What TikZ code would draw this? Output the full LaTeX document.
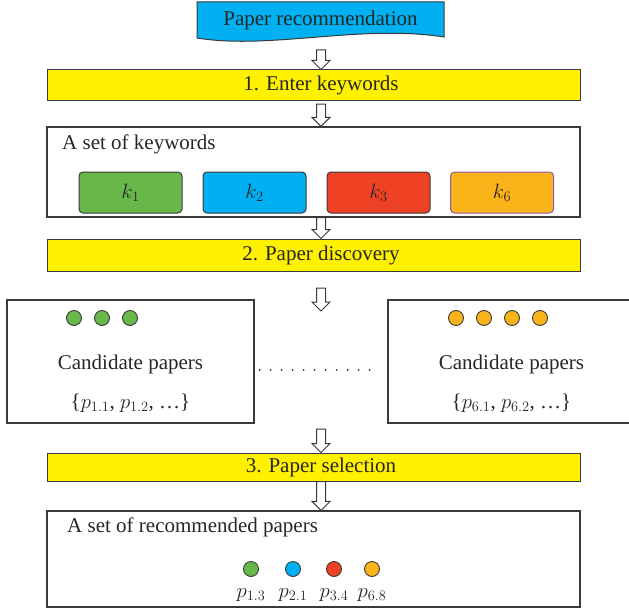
\documentclass[tikz,border=0pt]{standalone}
\usepackage{fontspec}
\setmainfont{Liberation Serif}
\usetikzlibrary{calc}
\definecolor{edge}{HTML}{3A3A3A}
\definecolor{barY}{HTML}{FFF100}
\definecolor{cyanB}{HTML}{00B0F0}
\definecolor{greenB}{HTML}{67B848}
\definecolor{redB}{HTML}{EF4123}
\definecolor{orangeB}{HTML}{FBB31A}
\definecolor{purpleB}{HTML}{8E5BA6}
\newcommand\barrow[2]{\draw[flow] let \p1=(#1), \p2=(#2) in
  (\x1-4.5pt,\y1) -- (\x1+4.5pt,\y1) -- (\x1+4.5pt,\y2+9pt) -- (\x1+9pt,\y2+9pt)
  -- (\x1,\y2) -- (\x1-9pt,\y2+9pt) -- (\x1-4.5pt,\y2+9pt) -- cycle;}
\begin{document}
\begin{tikzpicture}[x=1pt,y=-1pt,
  every node/.style={font=\fontsize{21}{25}\selectfont, inner sep=0pt, text=black!85},
  frame/.style={draw=edge, line width=1.1pt, minimum width=533pt},
  bar/.style={draw=edge, fill=barY, line width=1pt, minimum width=533pt},
  kbox/.style={draw=edge, rounded corners=4pt, line width=1pt, minimum width=103pt, minimum height=41pt},
  dot/.style={circle, draw=edge, line width=0.9pt, minimum size=15pt},
  flow/.style={draw=edge, fill=white, line width=1pt},
  dotline/.style={draw=black!80, line width=2pt, line cap=round, dash pattern=on 0pt off 11pt}]
\useasboundingbox (0,0) rectangle (629,610);

% top document shape
\draw[draw=edge, fill=cyanB, line width=1pt] (197,2) -- (444,2) -- (444,37)
  .. controls (360,24) and (270,50) .. (197,38) -- cycle;
\node (doc) at (320.5,20) {Paper recommendation};

% bars
\node[bar, minimum height=30pt] (bar1) at (313.5,85) {};
\node (t1) at (321,85) {1. Enter keywords};
\node[bar, minimum height=32pt] (bar2) at (313.5,255) {};
\node (t2) at (321,255) {2. Paper discovery};
\node[bar, minimum height=28pt] (bar3) at (313.5,467) {};
\node (t3) at (321,467) {3. Paper selection};

% keywords box
\node[frame, minimum height=90pt] (kw) at (313.5,172) {};
\node[anchor=base west] (kwl) at (62,149) {A set of keywords};
\node[kbox, fill=greenB] (k1) at (130.5,192.5) {$k_1$};
\node[kbox, fill=cyanB] (k2) at (254.5,192.5) {$k_2$};
\node[kbox, fill=redB] (k3) at (378.5,192.5) {$k_3$};
\node[kbox, fill=orangeB, draw=purpleB] (k6) at (502,192.5) {$k_6$};

% candidate boxes
\node[draw=edge, line width=1.1pt, minimum width=247pt, minimum height=123pt] (c1) at (130.5,361.5) {};
\node[draw=edge, line width=1.1pt, minimum width=247pt, minimum height=123pt] (c2) at (511.5,361.5) {};
\foreach \x/\n in {74/a,102/b,130/c} \node[dot, fill=greenB] (g\n) at (\x,318) {};
\foreach \x/\n in {456/a,484/b,512/c,540/d} \node[dot, fill=orangeB] (o\n) at (\x,318) {};
\node[anchor=base] (c1a) at (130.5,369) {Candidate papers};
\node[anchor=base] (c1b) at (130.5,408) {\{$p_{1.1}$, $p_{1.2}$, …\}};
\node[anchor=base] (c2a) at (511.5,369) {Candidate papers};
\node[anchor=base] (c2b) at (511.5,408) {\{$p_{6.1}$, $p_{6.2}$, …\}};
\draw[dotline, shorten <=5pt, shorten >=8pt] ([yshift=-8.5pt]c1.east) -- ([yshift=-8.5pt]c2.west);

% final box
\node[frame, minimum height=96pt] (fin) at (313.5,559) {};
\node[anchor=base west] (finl) at (67,532) {A set of recommended papers};
\node[dot, fill=greenB] (r1) at (251,569) {};
\node[dot, fill=cyanB] (r2) at (293,569) {};
\node[dot, fill=redB] (r3) at (334,569) {};
\node[dot, fill=orangeB] (r4) at (372,569) {};
\node[anchor=base] (l1) at (251,597) {$p_{1.3}$};
\node[anchor=base] (l2) at (293,597) {$p_{2.1}$};
\node[anchor=base] (l3) at (334,597) {$p_{3.4}$};
\node[anchor=base] (l4) at (372,597) {$p_{6.8}$};

% block arrows
\coordinate (ax) at (321,0);
\coordinate (a1t) at (321,50);
\coordinate (a2t) at (321,104);
\coordinate (a4t) at (321,288);
\coordinate (a4b) at (321,311);
\coordinate (a5t) at (321,429);
\barrow{a1t}{ax |- bar1.north}
\barrow{a2t}{ax |- kw.north}
\barrow{ax |- kw.south}{ax |- bar2.north}
\barrow{a4t}{a4b}
\barrow{a5t}{ax |- bar3.north}
\barrow{ax |- bar3.south}{ax |- fin.north}
\end{tikzpicture}
\end{document}
